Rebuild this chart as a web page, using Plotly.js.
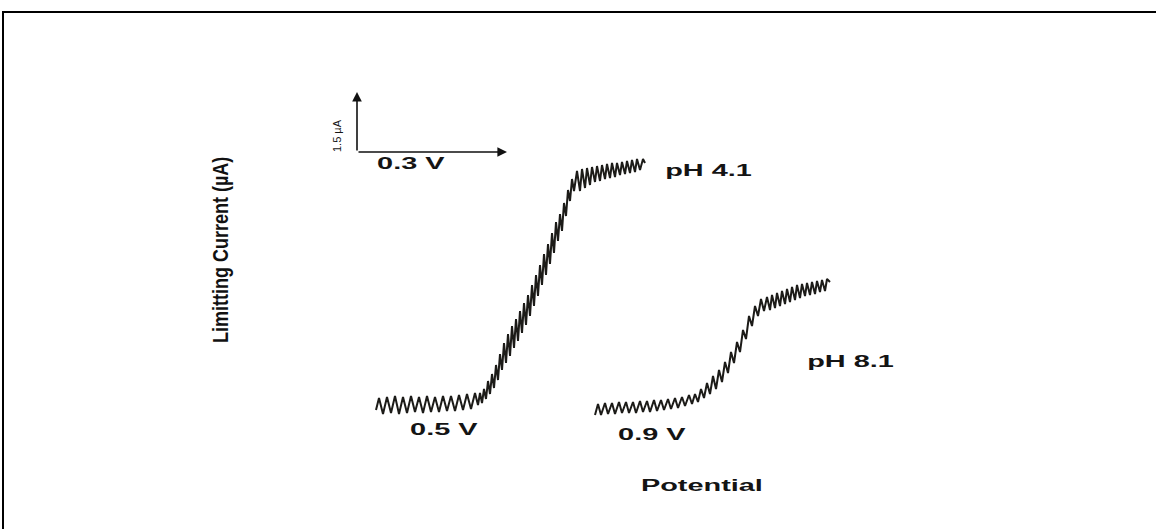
<!DOCTYPE html>
<html>
<head>
<meta charset="utf-8">
<script src="https://cdn.plot.ly/plotly-3.0.1.min.js"></script>
<style>
  html, body { margin: 0; padding: 0; background: #fff; }
  #chart { width: 1156px; height: 529px; }
  g.annotation text.annotation-text {
    transform-box: fill-box; transform-origin: 50% 50%; transform: scaleX(1.7);
  }
  g.annotation[data-index="6"] text.annotation-text { transform: scaleY(1.25); }
  g.annotation[data-index="7"] text.annotation-text { transform: none; }
</style>
</head>
<body>
<div id="chart"></div>
<script>
// Potential (V, arbitrary origin) and limiting current (µA)
const ph41_potential = [
  0.362,0.368,0.376,0.384,0.392,0.400,0.408,0.416,0.424,0.432,0.440,0.448,0.456,0.464,0.472,0.480,0.488,0.496,0.504,0.512,0.520,0.528,0.536,0.544,0.552,0.560,0.566,
  0.570,0.574,0.578,0.582,0.586,0.590,0.594,0.598,0.602,0.606,0.610,0.614,0.618,0.622,0.626,0.630,0.634,0.638,0.642,0.646,0.650,0.654,0.658,0.662,0.666,0.670,0.674,0.678,0.682,0.686,0.690,0.694,0.698,0.702,0.706,0.710,0.714,0.718,0.722,0.726,0.730,0.734,0.738,0.742,0.746,0.750,0.754,0.758,
  0.764,0.770,0.774,0.780,0.784,0.790,0.794,0.800,0.804,0.810,0.814,0.820,0.824,0.830,0.834,0.840,0.844,0.850,0.854,0.860,0.864,0.870,0.874,0.880,0.884,0.890,0.896,0.900
];
const ph41_current = [
  0.25,0.55,0.15,0.575,0.175,0.60,0.15,0.575,0.175,0.60,0.20,0.575,0.175,0.60,0.20,0.575,0.20,0.60,0.225,0.60,0.225,0.625,0.25,0.65,0.275,0.675,0.375,
  0.675,0.425,0.775,0.525,0.975,0.65,1.15,0.80,1.375,1.00,1.65,1.25,1.925,1.425,2.15,1.60,2.35,1.80,2.525,1.975,2.725,2.175,2.925,2.375,3.125,2.60,3.375,2.85,3.625,3.10,3.875,3.375,4.15,3.625,4.40,3.90,4.675,4.175,4.95,4.475,5.15,4.725,5.425,5.10,5.75,5.475,6.025,5.725,
  6.225,5.725,6.275,5.80,6.30,5.875,6.325,5.95,6.35,5.975,6.375,6.025,6.40,6.05,6.425,6.075,6.425,6.125,6.45,6.15,6.475,6.175,6.50,6.20,6.525,6.25,6.525,6.425
];
const ph81_potential = [
  0.800,0.806,0.812,0.820,0.826,0.834,0.840,0.848,0.854,0.862,0.868,0.876,0.882,0.890,0.896,0.904,0.910,0.918,0.924,0.932,0.938,0.946,0.952,0.960,0.966,0.974,0.980,0.988,0.994,
  1.000,1.006,1.012,1.018,1.024,1.030,1.036,1.042,1.048,1.054,1.060,1.066,1.072,1.078,1.084,1.090,1.096,1.102,1.108,1.114,1.120,1.126,1.132,1.138,
  1.144,1.150,1.154,1.160,1.164,1.170,1.174,1.180,1.184,1.190,1.194,1.200,1.204,1.210,1.214,1.220,1.224,1.230,1.234,1.240,1.244,1.250,1.254,1.260,1.264,1.270
];
const ph81_current = [
  0.125,0.40,0.125,0.425,0.15,0.425,0.15,0.45,0.175,0.45,0.175,0.45,0.175,0.475,0.20,0.475,0.20,0.50,0.225,0.50,0.25,0.525,0.275,0.55,0.30,0.575,0.35,0.625,0.40,
  0.65,0.45,0.775,0.55,0.925,0.65,1.10,0.775,1.25,0.95,1.45,1.175,1.70,1.425,1.95,1.70,2.25,2.025,2.60,2.35,2.85,2.60,3.025,2.725,
  3.075,2.75,3.125,2.80,3.175,2.85,3.225,2.90,3.275,2.95,3.325,3.00,3.375,3.05,3.40,3.10,3.425,3.125,3.45,3.15,3.475,3.20,3.50,3.225,3.525,3.45
];

// Text labels
const curveLabels = ["pH 4.1", "pH 8.1"];
const potentialLabels = ["0.5 V", "0.9 V"];
const scaleLabels = ["0.3 V", "1.5 µA"];
const xTitle = "Potential";
const yTitle = "Limitting Current (µA)";
// scale bar values
const scaleV = 0.3;   // V
const scaleI = 1.5;   // µA

const lineStyle = {color: '#1c1b18', width: 2, shape: 'linear'};
const traces = [
  {x: ph41_potential, y: ph41_current, mode: 'lines', line: lineStyle, name: curveLabels[0], hoverinfo: 'skip'},
  {x: ph81_potential, y: ph81_current, mode: 'lines', line: lineStyle, name: curveLabels[1], hoverinfo: 'skip'}
];

const f = {family: 'Liberation Sans, Arial, sans-serif', size: 17, color: '#141414', weight: 'bold'};
const ox = 0.324, oy = 6.7; // scale bar origin

const annotations = [
  {x: 1.026, y: 6.25, text: curveLabels[0], showarrow: false, font: f},
  {x: 1.31, y: 1.475, text: curveLabels[1], showarrow: false, font: f},
  {x: 0.498, y: -0.225, text: potentialLabels[0], showarrow: false, font: f},
  {x: 0.914, y: -0.35, text: potentialLabels[1], showarrow: false, font: f},
  {x: 0.432, y: 6.425, text: scaleLabels[0], showarrow: false, font: f},
  {x: 1.014, y: -1.625, text: xTitle, showarrow: false, font: f},
  {x: 0.05, y: 4.25, text: yTitle, showarrow: false, textangle: -90,
   font: {family: 'Liberation Sans, Arial, sans-serif', size: 18, color: '#111', weight: 'bold'}},
  {x: 0.284, y: 7.1, text: scaleLabels[1], showarrow: false, textangle: -90,
   font: {family: 'Liberation Sans, Arial, sans-serif', size: 11, color: '#161616'}},
  {x: ox, y: oy + scaleI, ax: ox, ay: oy, axref: 'x', ayref: 'y', text: '', showarrow: true,
   arrowhead: 2, arrowsize: 1.2, arrowwidth: 1.6, arrowcolor: '#111'},
  {x: ox + scaleV, y: oy, ax: ox, ay: oy, axref: 'x', ayref: 'y', text: '', showarrow: true,
   arrowhead: 2, arrowsize: 1.2, arrowwidth: 1.6, arrowcolor: '#111'}
];

const layout = {
  width: 1156, height: 529,
  margin: {l: 4, r: 0, t: 13, b: 0, pad: 0},
  paper_bgcolor: '#ffffff', plot_bgcolor: '#ffffff',
  showlegend: false,
  xaxis: {range: [-0.382, 1.922], side: 'top', showline: true, linecolor: '#000', linewidth: 2,
          showgrid: false, zeroline: false, showticklabels: false, ticks: ''},
  yaxis: {range: [-2.725, 10.175], showline: true, linecolor: '#000', linewidth: 2,
          showgrid: false, zeroline: false, showticklabels: false, ticks: ''},
  annotations: annotations
};

Plotly.newPlot('chart', traces, layout, {staticPlot: true, displayModeBar: false});
</script>
</body>
</html>
